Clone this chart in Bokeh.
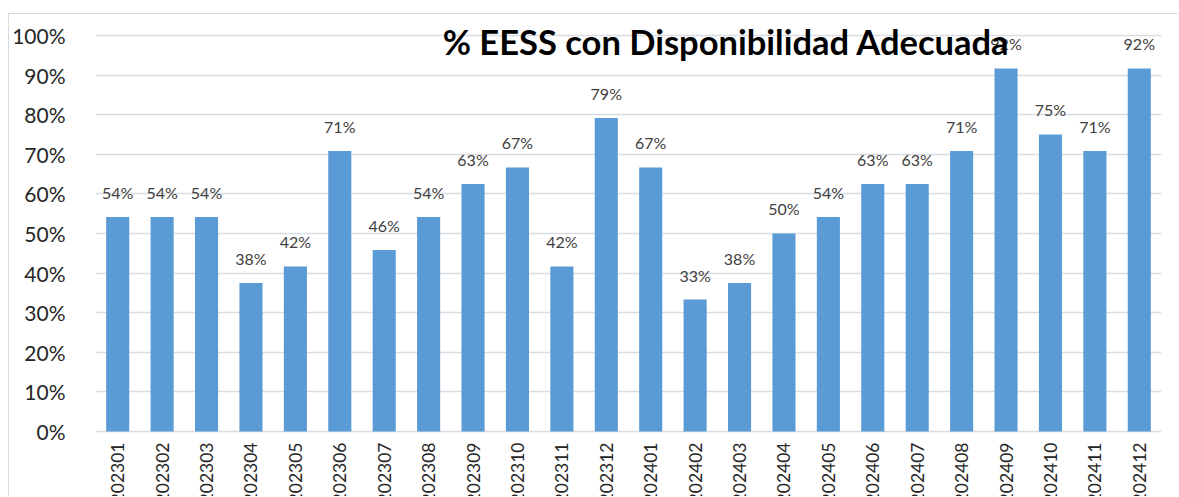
import math
from bokeh.plotting import figure
from bokeh.models import ColumnDataSource, Label, LabelSet, PrintfTickFormatter, FactorRange
from bokeh.core.properties import value
from bokeh.embed import file_html
from bokeh.resources import INLINE

periods = ["202301", "202302", "202303", "202304", "202305", "202306", "202307", "202308",
           "202309", "202310", "202311", "202312", "202401", "202402", "202403", "202404",
           "202405", "202406", "202407", "202408", "202409", "202410", "202411", "202412"]
values = [54.17, 54.17, 54.17, 37.5, 41.67, 70.83, 45.83, 54.17,
          62.5, 66.67, 41.67, 79.17, 66.67, 33.33, 37.5, 50.0,
          54.17, 62.5, 62.5, 70.83, 91.67, 75.0, 70.83, 91.67]
value_labels = ["54%", "54%", "54%", "38%", "42%", "71%", "46%", "54%",
                "63%", "67%", "42%", "79%", "67%", "33%", "38%", "50%",
                "54%", "63%", "63%", "71%", "92%", "75%", "71%", "92%"]
y_ticks = [0, 10, 20, 30, 40, 50, 60, 70, 80, 90, 100]
title_text = "% EESS con Disponibilidad Adecuada"

FONT = "Lato"
source = ColumnDataSource(dict(x=periods, y=values, lab=value_labels,
                               base=[0] * len(periods)))

# the frame fills the whole canvas height so the title can sit above the 100% line
# and the category labels can run off the bottom edge, as in the reference
p = figure(x_range=FactorRange(*periods, range_padding=0), y_range=(-16.67, 105.3),
           width=1170, height=483, output_backend="svg", toolbar_location=None,
           min_border_left=85, min_border_right=18, min_border_top=0, min_border_bottom=0)
p.styles = {"border-left": "1px solid #d9d9d9", "border-top": "1px solid #d9d9d9",
            "margin-left": "8px", "margin-top": "13px"}

p.vbar(x="x", top="y", width=0.52, source=source, fill_color="#5b9bd5", line_color=None)

p.text(x="x", y="base", text="x", source=source, angle=math.pi / 2,
       text_align="right", text_baseline="middle", y_offset=11,
       text_font_size="17.5px", text_color="#262626", text_font=value(FONT))

labels = LabelSet(x="x", y="y", text="lab", source=source, text_align="center",
                  text_baseline="alphabetic", y_offset=18, text_font_size="16px",
                  text_color="#404040", text_font=value(FONT))
p.add_layout(labels)

title = Label(x=14.2, y=98.6, text=title_text, text_align="center", text_baseline="alphabetic",
              text_font=FONT, text_font_style="bold", text_font_size="34.5px", text_color="#000000")
p.add_layout(title)

p.outline_line_color = None
p.xaxis.visible = False
p.xgrid.grid_line_color = None
p.ygrid.grid_line_color = "#d9dde3"
p.ygrid.grid_line_width = 1.5
p.yaxis.ticker = y_ticks
p.yaxis.formatter = PrintfTickFormatter(format="%d%%")
p.yaxis.axis_line_color = None
p.yaxis.major_tick_line_color = None
p.yaxis.minor_tick_line_color = None
p.yaxis.major_label_standoff = 24
p.yaxis.major_label_text_font = FONT
p.yaxis.major_label_text_font_size = "21px"
p.yaxis.major_label_text_color = "#262626"

open("out.html", "w").write(file_html(p, INLINE))
